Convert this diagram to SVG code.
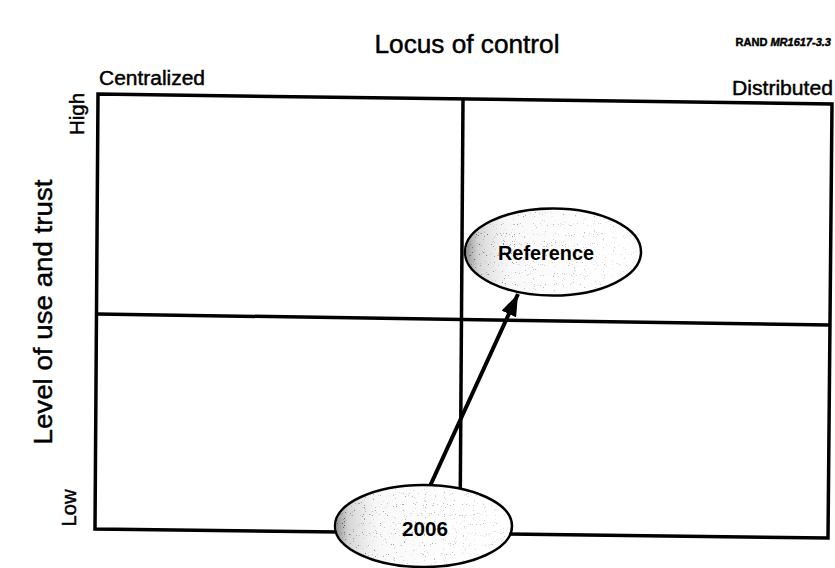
<svg xmlns="http://www.w3.org/2000/svg" width="835" height="568" viewBox="0 0 835 568">
  <style>
    .lbl { font-family: "Liberation Sans", Arial, sans-serif; fill: #000; stroke: #000; stroke-width: 0.45; }
    .grid { fill: none; stroke: #000; stroke-width: 3.5; stroke-linejoin: miter; }
    .bubble { fill: #ffffff; stroke: #000; stroke-width: 2.5; }
    .bubble-text { font-family: "Liberation Sans", Arial, sans-serif; font-weight: bold; fill: #000; text-anchor: middle; }
    .link { stroke: #000; stroke-width: 4; fill: none; }
  </style>
  <defs>
    <!-- soft grey shading heavier toward the left rim of each bubble -->
    <linearGradient id="edgeShade" x1="0" y1="0" x2="1" y2="0">
      <stop offset="0" stop-color="#7a7a7a" stop-opacity="0.85"/>
      <stop offset="0.07" stop-color="#a0a0a0" stop-opacity="0.45"/>
      <stop offset="0.25" stop-color="#d4d4d4" stop-opacity="0.15"/>
      <stop offset="0.7" stop-color="#ebebeb" stop-opacity="0.06"/>
      <stop offset="1" stop-color="#ffffff" stop-opacity="0"/>
    </linearGradient>
    <!-- grain density fades from left to right -->
    <linearGradient id="grainFade" x1="0" y1="0" x2="1" y2="0">
      <stop offset="0" stop-color="#fff" stop-opacity="1"/>
      <stop offset="0.35" stop-color="#fff" stop-opacity="0.55"/>
      <stop offset="1" stop-color="#fff" stop-opacity="0.3"/>
    </linearGradient>
    <mask id="fadeMask" maskContentUnits="objectBoundingBox">
      <rect width="1" height="1" fill="url(#grainFade)"/>
    </mask>
    <!-- sparse dots for the stippled fill -->
    <filter id="grain" x="0" y="0" width="1" height="1">
      <feTurbulence type="fractalNoise" baseFrequency="0.9" numOctaves="1" seed="4" result="noise"/>
      <feColorMatrix in="noise" type="matrix" values="0 0 0 0 0  0 0 0 0 0  0 0 0 0 0  -12 0 0 0 4.0" result="dots"/>
      <feComposite in="dots" in2="SourceGraphic" operator="in"/>
    </filter>
    <marker id="head" viewBox="0 0 22 16" refX="22" refY="8" markerWidth="22" markerHeight="16" markerUnits="userSpaceOnUse" orient="auto">
      <path d="M0,0 L22,8 L0,16 Z" fill="#000"/>
    </marker>
  </defs>

  <!-- figure number -->
  <text class="lbl" x="831" y="46" font-size="11" font-weight="bold" text-anchor="end" stroke-width="0">RAND <tspan font-style="italic">MR1617-3.3</tspan></text>

  <!-- axis titles -->
  <text class="lbl" x="467" y="53" font-size="25" text-anchor="middle" textLength="185" lengthAdjust="spacingAndGlyphs">Locus of control</text>
  <text class="lbl" x="99" y="85" font-size="20" textLength="106" lengthAdjust="spacingAndGlyphs">Centralized</text>
  <text class="lbl" x="833" y="95" font-size="20" text-anchor="end" textLength="101" lengthAdjust="spacingAndGlyphs">Distributed</text>
  <text class="lbl" font-size="26" text-anchor="middle" transform="translate(52,312) rotate(-90)" textLength="265" lengthAdjust="spacingAndGlyphs">Level of use and trust</text>
  <text class="lbl" font-size="20" text-anchor="middle" transform="translate(84,114) rotate(-90)" textLength="42" lengthAdjust="spacingAndGlyphs">High</text>
  <text class="lbl" font-size="20" text-anchor="middle" transform="translate(76,508) rotate(-90)" textLength="37" lengthAdjust="spacingAndGlyphs">Low</text>

  <!-- quadrant grid -->
  <g id="grid">
    <polygon class="grid" points="98,94 832,104 828,538 95,529"/>
    <line class="grid" x1="97" y1="314" x2="830" y2="325"/>
    <line class="grid" x1="463" y1="99" x2="460" y2="533"/>
  </g>

  <!-- connectors -->
  <g id="connectors">
    <line class="link" x1="430" y1="486" x2="518" y2="294" marker-end="url(#head)"/>
  </g>

  <!-- nodes -->
  <g id="node-reference">
    <ellipse class="bubble" cx="553" cy="252" rx="88" ry="43.5"/>
    <ellipse cx="553" cy="252" rx="87" ry="42.5" fill="url(#edgeShade)"/>
    <g mask="url(#fadeMask)">
      <ellipse cx="553" cy="252" rx="86" ry="41.5" fill="#222" opacity="0.6" filter="url(#grain)"/>
    </g>
    <text class="bubble-text" x="546" y="260" font-size="20" textLength="96" lengthAdjust="spacingAndGlyphs">Reference</text>
  </g>
  <g id="node-2006">
    <ellipse class="bubble" cx="423.5" cy="526" rx="88.5" ry="41"/>
    <ellipse cx="423.5" cy="526" rx="87.5" ry="40" fill="url(#edgeShade)"/>
    <g mask="url(#fadeMask)">
      <ellipse cx="423.5" cy="526" rx="86.5" ry="39" fill="#222" opacity="0.6" filter="url(#grain)"/>
    </g>
    <text class="bubble-text" x="425" y="536" font-size="21" textLength="46" lengthAdjust="spacingAndGlyphs">2006</text>
  </g>
</svg>
